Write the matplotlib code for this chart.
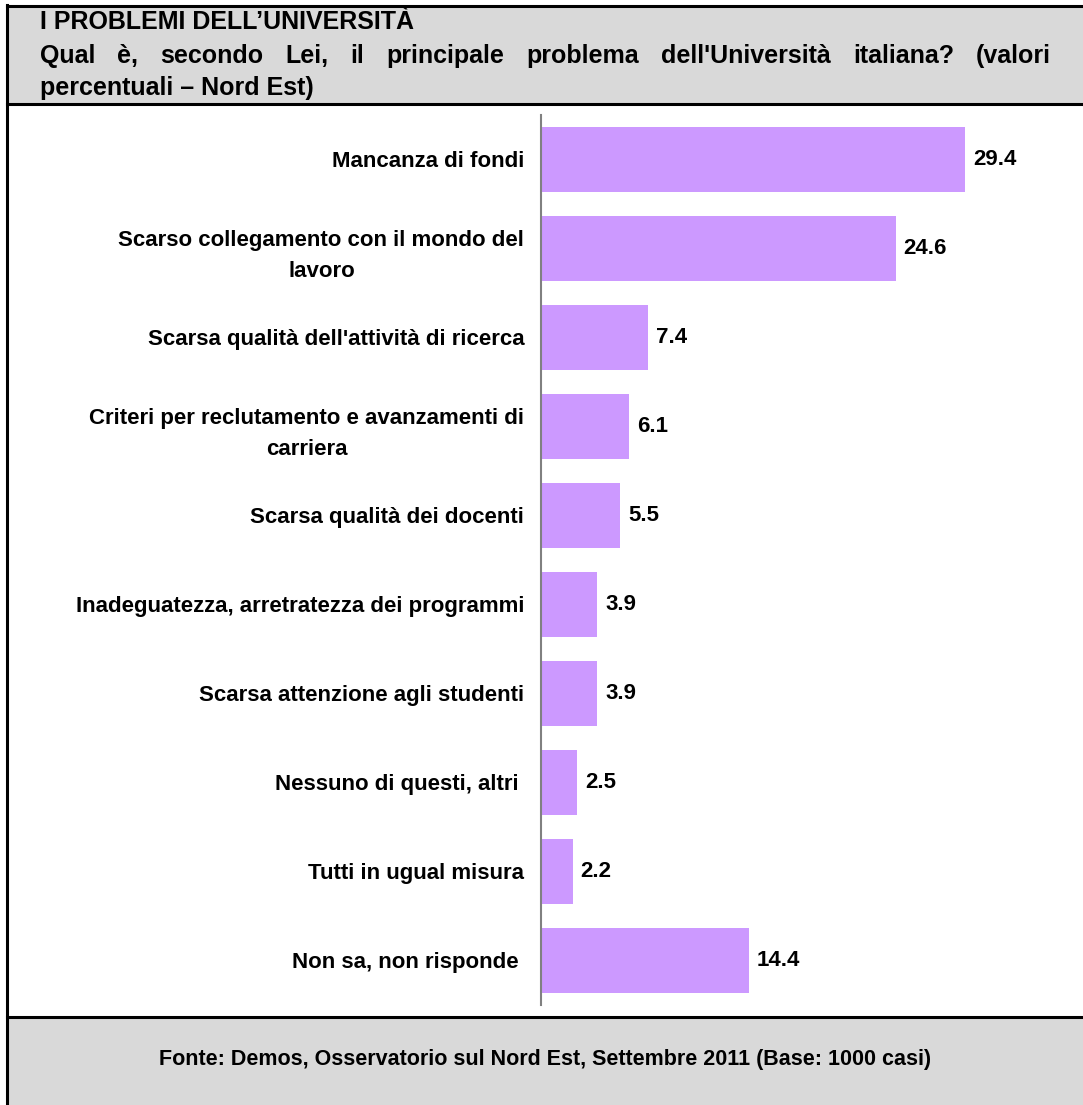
import matplotlib
matplotlib.use('Agg')
from matplotlib import pyplot as plt
from matplotlib.patches import Rectangle

plt.rcParams['font.family'] = ['Liberation Sans', 'DejaVu Sans']
plt.rcParams['font.weight'] = 'bold'

# data
categories = [
	'Mancanza di fondi',
	'Scarso collegamento con il mondo del\nlavoro',
	"Scarsa qualità dell'attività di ricerca",
	'Criteri per reclutamento e avanzamenti di\ncarriera',
	'Scarsa qualità dei docenti',
	'Inadeguatezza, arretratezza dei programmi',
	'Scarsa attenzione agli studenti',
	'Nessuno di questi, altri ',
	'Tutti in ugual misura',
	'Non sa, non risponde ',
]
values = [29.4, 24.6, 7.4, 6.1, 5.5, 3.9, 3.9, 2.5, 2.2, 14.4]

title1 = 'I PROBLEMI DELL\u2019UNIVERSITÀ'
title2 = "Qual è, secondo Lei, il principale problema dell'Università italiana? (valori"
title3 = 'percentuali \u2013 Nord Est)'
source = 'Fonte: Demos, Osservatorio sul Nord Est, Settembre 2011 (Base: 1000 casi)'

W, H = 1083, 1105
fig = plt.figure(figsize=(W/100, H/100), dpi=100)

# background frame, pixel coords
bg = fig.add_axes([0, 0, 1, 1])
bg.set_xlim(0, W)
bg.set_ylim(H, 0)
bg.axis('off')

gray = '#d9d9d9'
bg.add_patch(Rectangle((8, 6), W, 98, facecolor=gray, edgecolor='none'))
bg.add_patch(Rectangle((8, 1017), W, 100, facecolor=gray, edgecolor='none'))
bg.plot([7, W], [6, 6], color='black', lw=2.2)
bg.plot([7, W], [104, 104], color='black', lw=2.2)
bg.plot([7, W], [1017, 1017], color='black', lw=2.2)
bg.plot([7, 7], [5, H], color='black', lw=2.2)

fs = 16
tfs = 18
tx = 40
bg.text(tx, 22, title1, fontsize=tfs, va='center', ha='left')

# justified second line
fig.canvas.draw()
renderer = fig.canvas.get_renderer()
words = title2.split(' ')
right = 1051
objs = []
total = 0
for w in words:
	t = bg.text(tx, 56, w, fontsize=tfs, va='center', ha='left')
	bb = t.get_window_extent(renderer)
	objs.append((t, bb.width))
	total += bb.width
gap = (right - tx - total) / (len(words) - 1)
x = tx
for t, wdt in objs:
	t.set_x(x)
	x += wdt + gap

bg.text(tx, 88, title3, fontsize=tfs, va='center', ha='left')
bg.text(545, 1060, source, fontsize=15.5, va='center', ha='center')

# bar chart
x0, x1 = 541, 1075
y0, y1 = 115, 1005
ax = fig.add_axes([x0/W, 1 - y1/H, (x1-x0)/W, (y1-y0)/H])
ax.patch.set_alpha(0)
ppu = (965 - 541) / 29.4
ax.set_xlim(0, (x1 - x0) / ppu)
ax.set_ylim(len(values) - 0.5, -0.5)

pos = list(range(len(values)))
ax.barh(pos, values, height=0.73, color='#cc99ff')
for p, v in zip(pos, values):
	ax.text(v + 0.55, p, '%.1f' % v, fontsize=fs, va='center', ha='left')

ax.set_yticks(pos)
ax.set_yticklabels(categories, fontsize=fs, linespacing=1.65, multialignment='center')
ax.tick_params(axis='y', length=0, pad=12)
ax.set_xticks([])
for s in ['top', 'right', 'bottom']:
	ax.spines[s].set_visible(False)
ax.spines['left'].set_color('#808080')
ax.spines['left'].set_linewidth(1.5)

fig.savefig('out.png', dpi=100)
